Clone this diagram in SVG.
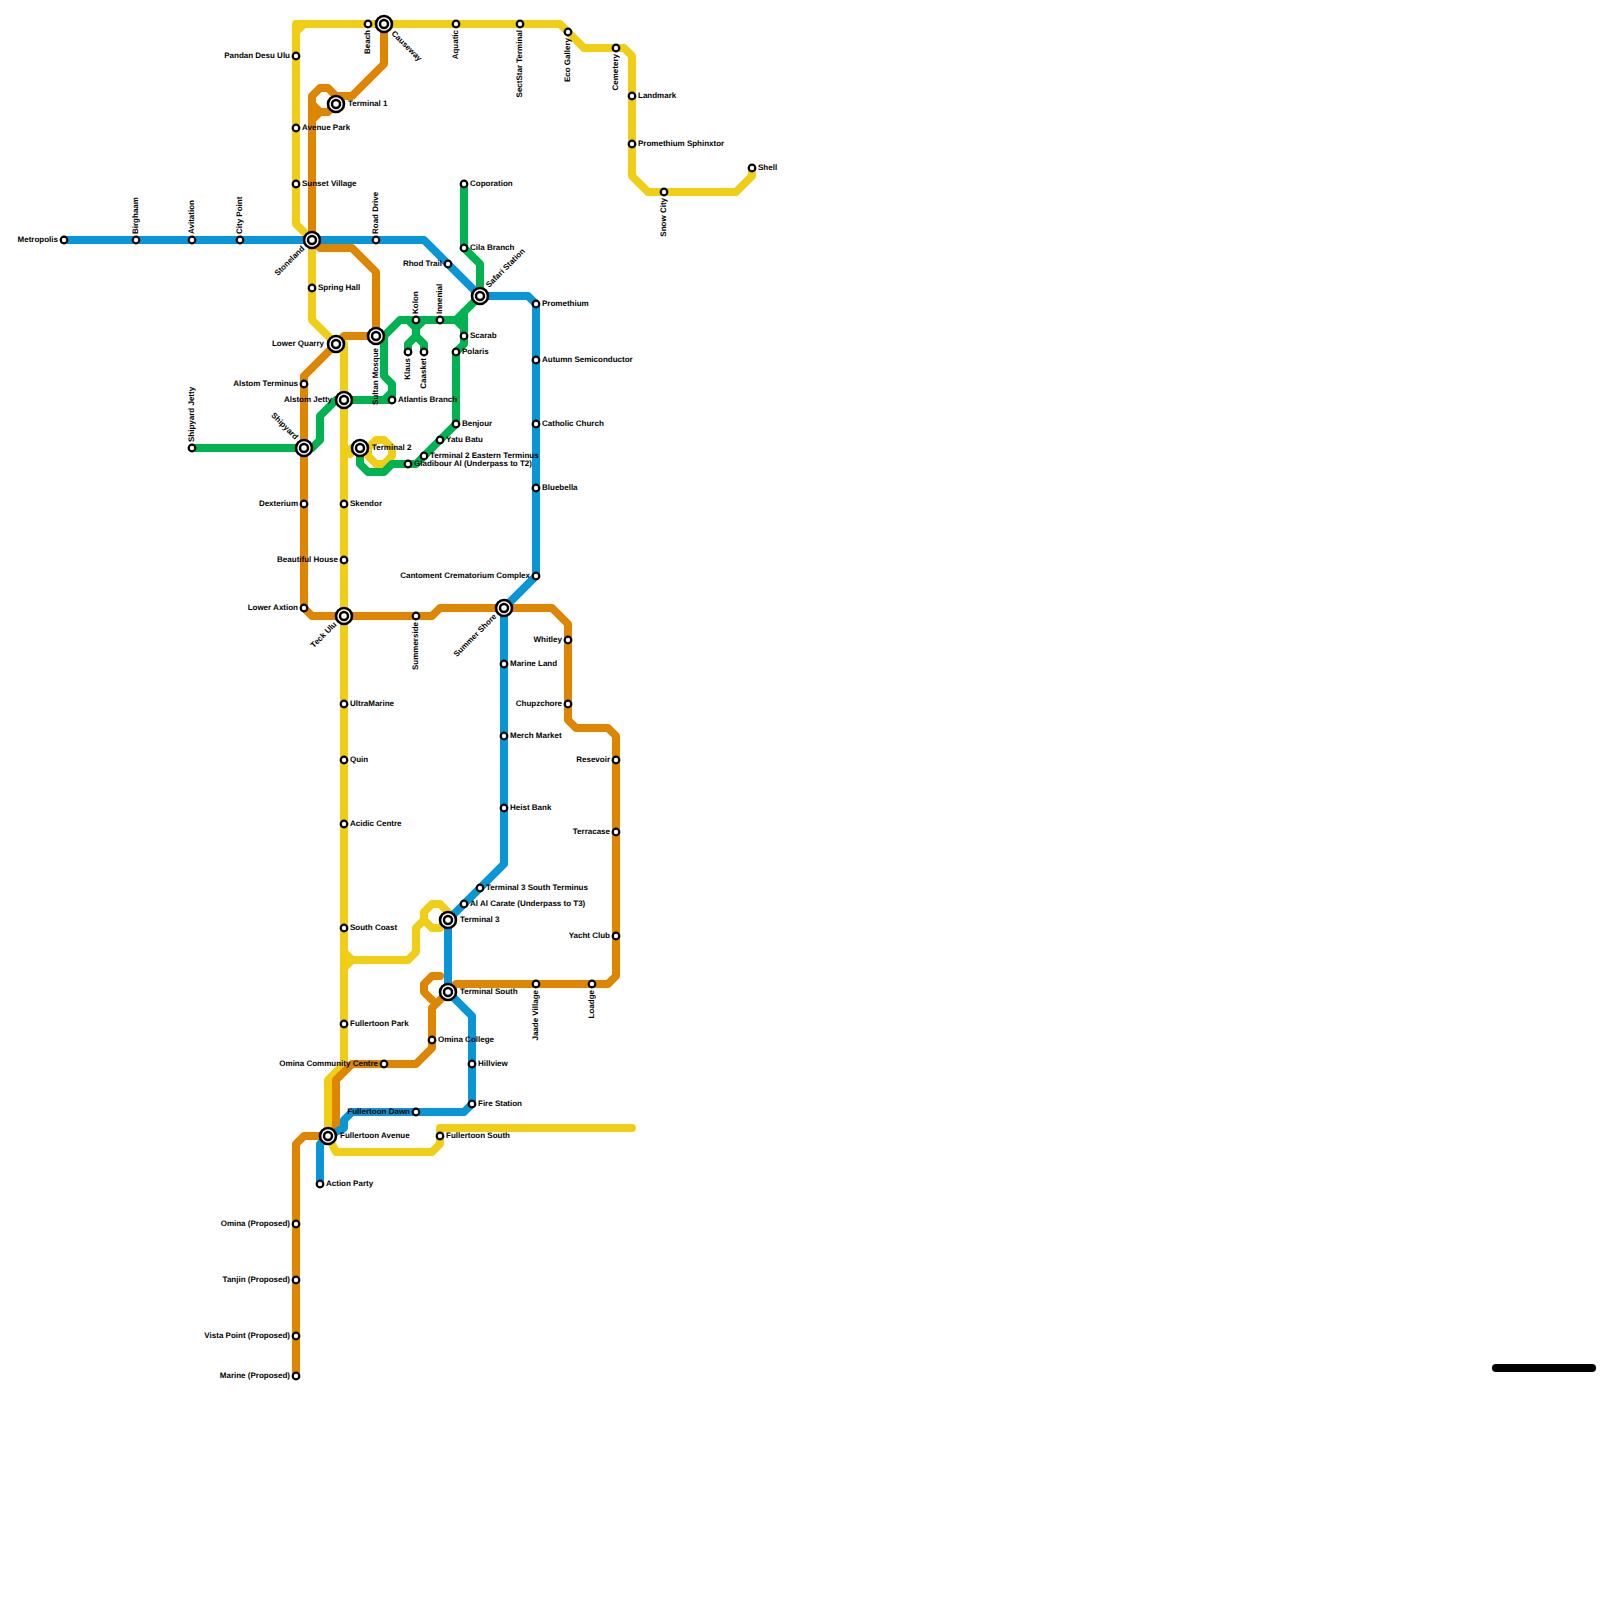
<svg xmlns="http://www.w3.org/2000/svg" width="1600" height="1600" viewBox="0 0 1600 1600">
<style>
text{font-family:"Liberation Sans",Arial,sans-serif;font-size:8px;font-weight:bold;fill:#000;text-rendering:geometricPrecision}
.e{text-anchor:end}
.l{fill:none;stroke-width:8;stroke-linecap:round;stroke-linejoin:round}
.y{stroke:#f0ce15}.o{stroke:#df8600}.g{stroke:#00b251}.b{stroke:#0896d7}.k{stroke:#000}
.s{fill:#fff;stroke:#000;stroke-width:2.2;r:3.3px}
.i{fill:#fff;stroke:#000;stroke-width:2.6;r:8px}
.j{fill:#fff;stroke:#000;stroke-width:2.5;r:4px}
</style>
<rect width="1600" height="1600" fill="#fff"/>
<g id="connectors">
<path class="l y" d="M312,240L296,224V24H560L584,48H624L632,56V176L648,192H736L752,176V168M296,32L304,24"/>
<path class="l y" d="M312,240V320L336,344M344,344V1064L328,1080V1136L336,1152H432L440,1144V1128H632"/>
<path class="l y" d="M344,456L352,448H368L376,440H384L392,448V456L384,464H376L368,456V448M344,448L350,454"/>
<path class="l y" d="M344,952L352,960H408L416,952V928L424,920V912L432,904H440L448,912M344,968L352,960M424,920L432,928H440L448,920"/>
<path class="l o" d="M312,240V96L320,88H328L336,96H352L384,64V24M312,120L320,112H328L336,104M312,104L320,112"/>
<path class="l o" d="M312,240L320,248H352L376,272V336H344L336,344L304,376V608L312,616H432L440,608H552L568,624V720L576,728H608L616,736V976L608,984H456L448,992"/>
<path class="l o" d="M440,976H432L424,984V992L432,1000M448,992L432,1008V1048L416,1064H352L336,1080V1128L328,1136H304L296,1144V1376"/>
<path class="l g" d="M192,448H312L320,440V416L336,400H384L392,392M376,336H384V376L392,384V400H384"/>
<path class="l g" d="M384,336L400,320H456L480,296V264L464,248V184M456,320L464,328V344L456,352V424L416,464H392L384,472H368L360,464V448M464,312V328"/>
<path class="l g" d="M408,320L416,328L424,320M416,320V336L408,344V352M416,336L424,344V352"/>
<path class="l b" d="M64,240H424L480,296H528L536,304V576L504,608V864L448,920V992L472,1016V1104L464,1112H352L344,1120V1128L328,1136L320,1144V1184"/>
<path class="l k" d="M1496,1368H1592"/>
</g>
<g id="stations">
<g id="n1"><circle class="s" cx="64" cy="240"/><text class="e" x="58" y="242">Metropolis</text></g>
<g id="n2"><circle class="s" cx="136" cy="240"/><text transform="translate(138,234) rotate(-90)">Birghaam</text></g>
<g id="n3"><circle class="s" cx="192" cy="240"/><text transform="translate(194,234) rotate(-90)">Avitation</text></g>
<g id="n4"><circle class="s" cx="240" cy="240"/><text transform="translate(242,234) rotate(-90)">City Point</text></g>
<g id="n5"><circle class="i" cx="312" cy="240"/><circle class="j" cx="312" cy="240"/><text class="e" transform="translate(305,249) rotate(-45)">Stoneland</text></g>
<g id="n6"><circle class="s" cx="376" cy="240"/><text transform="translate(378,234) rotate(-90)">Road Drive</text></g>
<g id="n7"><circle class="s" cx="448" cy="264"/><text class="e" x="442" y="266">Rhod Trail</text></g>
<g id="n8"><circle class="i" cx="480" cy="296"/><circle class="j" cx="480" cy="296"/><text transform="translate(489,288) rotate(-45)">Safari Station</text></g>
<g id="n9"><circle class="s" cx="536" cy="304"/><text x="542" y="306">Promethium</text></g>
<g id="n10"><circle class="s" cx="536" cy="360"/><text x="542" y="362">Autumn Semiconductor</text></g>
<g id="n11"><circle class="s" cx="536" cy="424"/><text x="542" y="426">Catholic Church</text></g>
<g id="n12"><circle class="s" cx="536" cy="488"/><text x="542" y="490">Bluebella</text></g>
<g id="n13"><circle class="s" cx="536" cy="576"/><text class="e" x="530" y="578">Cantoment Crematorium Complex</text></g>
<g id="n14"><circle class="i" cx="504" cy="608"/><circle class="j" cx="504" cy="608"/><text class="e" transform="translate(497,617) rotate(-45)">Summer Shore</text></g>
<g id="n15"><circle class="s" cx="504" cy="664"/><text x="510" y="666">Marine Land</text></g>
<g id="n16"><circle class="s" cx="504" cy="736"/><text x="510" y="738">Merch Market</text></g>
<g id="n17"><circle class="s" cx="504" cy="808"/><text x="510" y="810">Heist Bank</text></g>
<g id="n18"><circle class="s" cx="480" cy="888"/><text x="486" y="890">Terminal 3 South Terminus</text></g>
<g id="n19"><circle class="s" cx="464" cy="904"/><text x="470" y="906">Al Al Carate (Underpass to T3)</text></g>
<g id="n20"><circle class="i" cx="448" cy="920"/><circle class="j" cx="448" cy="920"/><text x="460" y="922">Terminal 3</text></g>
<g id="n21"><circle class="i" cx="448" cy="992"/><circle class="j" cx="448" cy="992"/><text x="460" y="994">Terminal South</text></g>
<g id="n22"><circle class="s" cx="472" cy="1064"/><text x="478" y="1066">Hillview</text></g>
<g id="n23"><circle class="s" cx="472" cy="1104"/><text x="478" y="1106">Fire Station</text></g>
<g id="n24"><circle class="s" cx="416" cy="1112"/><text class="e" x="410" y="1114">Fullertoon Dawn</text></g>
<g id="n25"><circle class="i" cx="328" cy="1136"/><circle class="j" cx="328" cy="1136"/><text x="340" y="1138">Fullertoon Avenue</text></g>
<g id="n26"><circle class="s" cx="320" cy="1184"/><text x="326" y="1186">Action Party</text></g>
<g id="n27"><circle class="s" cx="296" cy="56"/><text class="e" x="290" y="58">Pandan Desu Ulu</text></g>
<g id="n28"><circle class="s" cx="296" cy="128"/><text x="302" y="130">Avenue Park</text></g>
<g id="n29"><circle class="s" cx="296" cy="184"/><text x="302" y="186">Sunset Village</text></g>
<g id="n30"><circle class="s" cx="368" cy="24"/><text class="e" transform="translate(370,30) rotate(-90)">Beach</text></g>
<g id="n31"><circle class="i" cx="384" cy="24"/><circle class="j" cx="384" cy="24"/><text transform="translate(391,34) rotate(45)">Causeway</text></g>
<g id="n32"><circle class="s" cx="456" cy="24"/><text class="e" transform="translate(458,30) rotate(-90)">Aquatic</text></g>
<g id="n33"><circle class="s" cx="520" cy="24"/><text class="e" transform="translate(522,30) rotate(-90)">SectStar Terminal</text></g>
<g id="n34"><circle class="s" cx="568" cy="32"/><text class="e" transform="translate(570,38) rotate(-90)">Eco Gallery</text></g>
<g id="n35"><circle class="s" cx="616" cy="48"/><text class="e" transform="translate(618,54) rotate(-90)">Cemetery</text></g>
<g id="n36"><circle class="s" cx="632" cy="96"/><text x="638" y="98">Landmark</text></g>
<g id="n37"><circle class="s" cx="632" cy="144"/><text x="638" y="146">Promethium Sphinxtor</text></g>
<g id="n38"><circle class="s" cx="664" cy="192"/><text class="e" transform="translate(666,198) rotate(-90)">Snow City</text></g>
<g id="n39"><circle class="s" cx="752" cy="168"/><text x="758" y="170">Shell</text></g>
<g id="n40"><circle class="i" cx="336" cy="104"/><circle class="j" cx="336" cy="104"/><text x="348" y="106">Terminal 1</text></g>
<g id="n41"><circle class="s" cx="464" cy="184"/><text x="470" y="186">Coporation</text></g>
<g id="n42"><circle class="s" cx="464" cy="248"/><text x="470" y="250">Cila Branch</text></g>
<g id="n43"><circle class="s" cx="312" cy="288"/><text x="318" y="290">Spring Hall</text></g>
<g id="n44"><circle class="i" cx="336" cy="344"/><circle class="j" cx="336" cy="344"/><text class="e" x="324" y="346">Lower Quarry</text></g>
<g id="n45"><circle class="i" cx="376" cy="336"/><circle class="j" cx="376" cy="336"/><text class="e" transform="translate(378,348) rotate(-90)">Sultan Mosque</text></g>
<g id="n46"><circle class="s" cx="416" cy="320"/><text transform="translate(418,314) rotate(-90)">Kolon</text></g>
<g id="n47"><circle class="s" cx="440" cy="320"/><text transform="translate(442,314) rotate(-90)">Innenial</text></g>
<g id="n48"><circle class="s" cx="464" cy="336"/><text x="470" y="338">Scarab</text></g>
<g id="n49"><circle class="s" cx="456" cy="352"/><text x="462" y="354">Polaris</text></g>
<g id="n50"><circle class="s" cx="408" cy="352"/><text class="e" transform="translate(410,358) rotate(-90)">Klaus</text></g>
<g id="n51"><circle class="s" cx="424" cy="352"/><text class="e" transform="translate(426,358) rotate(-90)">Caasket</text></g>
<g id="n52"><circle class="s" cx="304" cy="384"/><text class="e" x="298" y="386">Alstom Terminus</text></g>
<g id="n53"><circle class="i" cx="344" cy="400"/><circle class="j" cx="344" cy="400"/><text class="e" x="332" y="402">Alstom Jetty</text></g>
<g id="n54"><circle class="s" cx="392" cy="400"/><text x="398" y="402">Atlantis Branch</text></g>
<g id="n55"><circle class="s" cx="192" cy="448"/><text transform="translate(194,442) rotate(-90)">Shipyard Jetty</text></g>
<g id="n56"><circle class="i" cx="304" cy="448"/><circle class="j" cx="304" cy="448"/><text class="e" transform="translate(295,440) rotate(45)">Shipyard</text></g>
<g id="n57"><circle class="i" cx="360" cy="448"/><circle class="j" cx="360" cy="448"/><text x="372" y="450">Terminal 2</text></g>
<g id="n58"><circle class="s" cx="456" cy="424"/><text x="462" y="426">Benjour</text></g>
<g id="n59"><circle class="s" cx="440" cy="440"/><text x="446" y="442">Yatu Batu</text></g>
<g id="n60"><circle class="s" cx="424" cy="456"/><text x="430" y="458">Terminal 2 Eastern Terminus</text></g>
<g id="n61"><circle class="s" cx="408" cy="464"/><text x="414" y="466">Gladibour Al (Underpass to T2)</text></g>
<g id="n62"><circle class="s" cx="304" cy="504"/><text class="e" x="298" y="506">Dexterium</text></g>
<g id="n63"><circle class="s" cx="344" cy="504"/><text x="350" y="506">Skendor</text></g>
<g id="n64"><circle class="s" cx="344" cy="560"/><text class="e" x="338" y="562">Beautiful House</text></g>
<g id="n65"><circle class="s" cx="304" cy="608"/><text class="e" x="298" y="610">Lower Axtion</text></g>
<g id="n66"><circle class="i" cx="344" cy="616"/><circle class="j" cx="344" cy="616"/><text class="e" transform="translate(337,625) rotate(-45)">Teck Ulu</text></g>
<g id="n67"><circle class="s" cx="416" cy="616"/><text class="e" transform="translate(418,622) rotate(-90)">Summerside</text></g>
<g id="n68"><circle class="s" cx="568" cy="640"/><text class="e" x="562" y="642">Whitley</text></g>
<g id="n69"><circle class="s" cx="568" cy="704"/><text class="e" x="562" y="706">Chupzchore</text></g>
<g id="n70"><circle class="s" cx="616" cy="760"/><text class="e" x="610" y="762">Resevoir</text></g>
<g id="n71"><circle class="s" cx="616" cy="832"/><text class="e" x="610" y="834">Terracase</text></g>
<g id="n72"><circle class="s" cx="616" cy="936"/><text class="e" x="610" y="938">Yacht Club</text></g>
<g id="n73"><circle class="s" cx="536" cy="984"/><text class="e" transform="translate(538,990) rotate(-90)">Jaade Village</text></g>
<g id="n74"><circle class="s" cx="592" cy="984"/><text class="e" transform="translate(594,990) rotate(-90)">Loadge</text></g>
<g id="n75"><circle class="s" cx="344" cy="704"/><text x="350" y="706">UltraMarine</text></g>
<g id="n76"><circle class="s" cx="344" cy="760"/><text x="350" y="762">Quin</text></g>
<g id="n77"><circle class="s" cx="344" cy="824"/><text x="350" y="826">Acidic Centre</text></g>
<g id="n78"><circle class="s" cx="344" cy="928"/><text x="350" y="930">South Coast</text></g>
<g id="n79"><circle class="s" cx="344" cy="1024"/><text x="350" y="1026">Fullertoon Park</text></g>
<g id="n80"><circle class="s" cx="432" cy="1040"/><text x="438" y="1042">Omina College</text></g>
<g id="n81"><circle class="s" cx="384" cy="1064"/><text class="e" x="378" y="1066">Omina Community Centre</text></g>
<g id="n82"><circle class="s" cx="440" cy="1136"/><text x="446" y="1138">Fullertoon South</text></g>
<g id="n83"><circle class="s" cx="296" cy="1224"/><text class="e" x="290" y="1226">Omina (Proposed)</text></g>
<g id="n84"><circle class="s" cx="296" cy="1280"/><text class="e" x="290" y="1282">Tanjin (Proposed)</text></g>
<g id="n85"><circle class="s" cx="296" cy="1336"/><text class="e" x="290" y="1338">Vista Point (Proposed)</text></g>
<g id="n86"><circle class="s" cx="296" cy="1376"/><text class="e" x="290" y="1378">Marine (Proposed)</text></g>
</g>
</svg>
